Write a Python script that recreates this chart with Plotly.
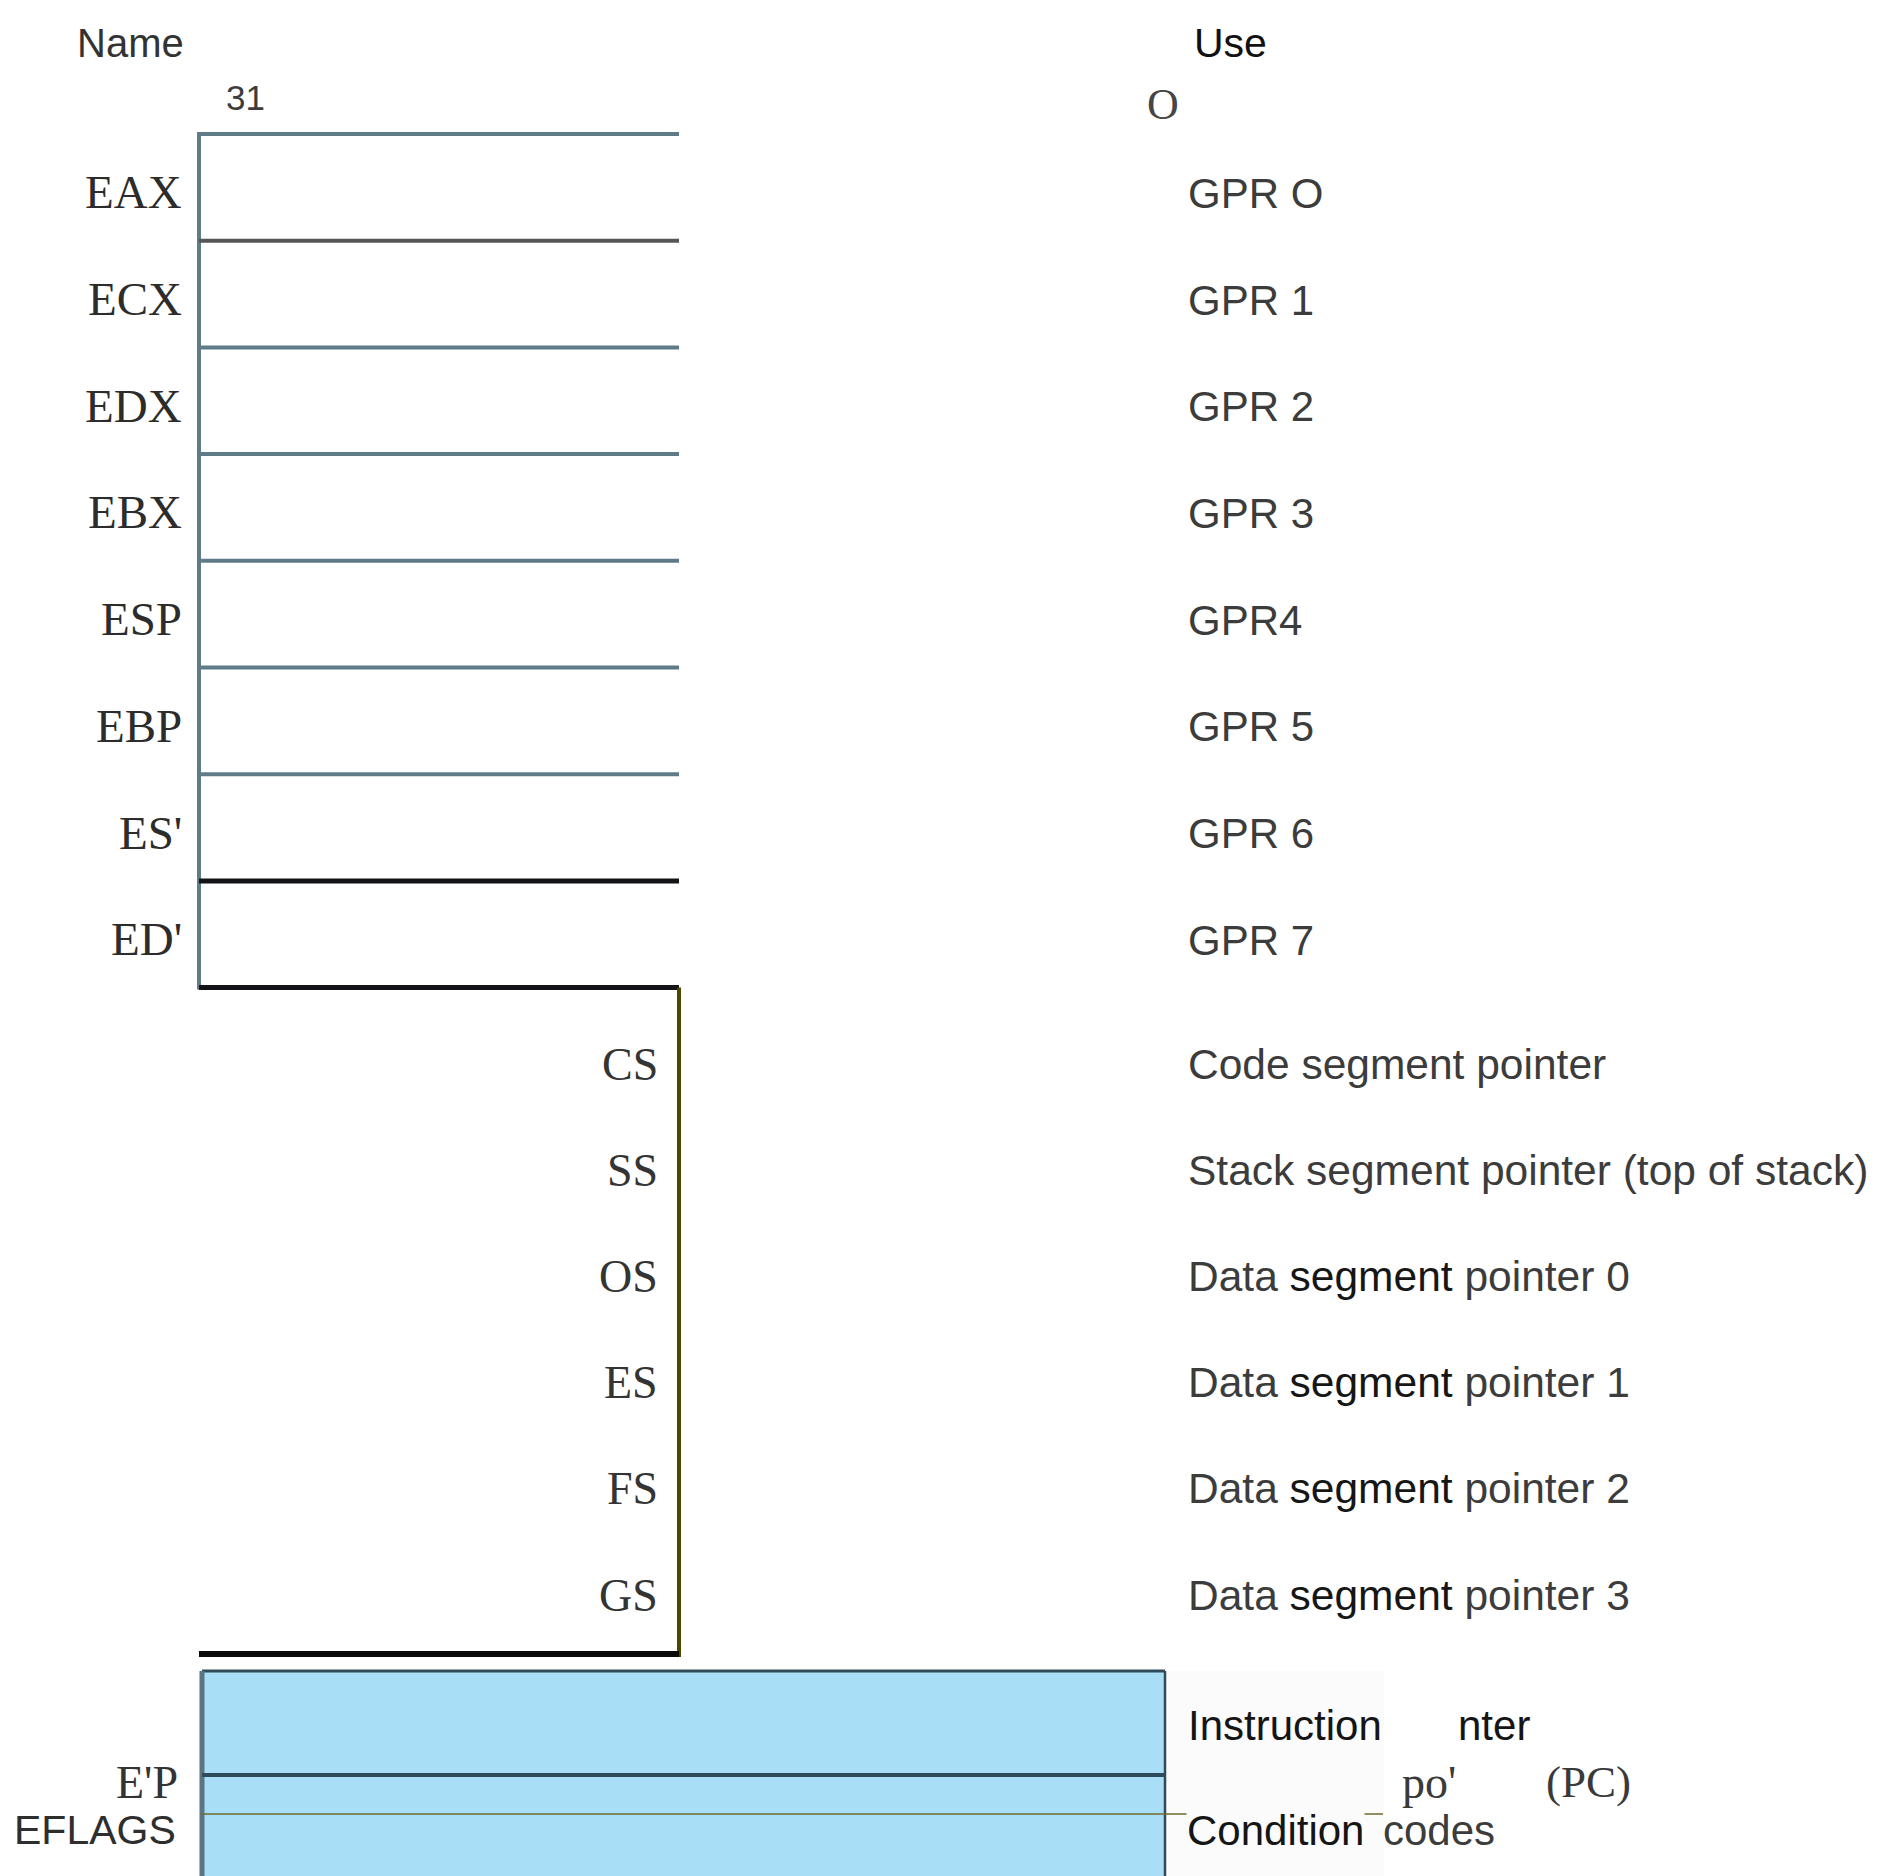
import plotly.graph_objects as go

# ---- data ----
reg_names = ["EAX", "ECX", "EDX", "EBX", "ESP", "EBP", "ES'", "ED'"]
reg_uses = ["GPR O", "GPR 1", "GPR 2", "GPR 3", "GPR4", "GPR 5", "GPR 6", "GPR 7"]
seg_names = ["CS", "SS", "OS", "ES", "FS", "GS"]
seg_use_prefix = ["Code", "Stack", "Data", "Data", "Data", "Data"]
seg_use_suffix = ["pointer", "pointer (top of stack)", "pointer 0", "pointer 1", "pointer 2", "pointer 3"]
bit_labels = ["31", "O"]
col_headers = ["Name", "Use"]

# ---- layout constants ----
W, H = 1878, 1876
OFF = 8  # page body margin
LX, RX = 199, 679
REG_TOP, REG_ROW = 134, 106.7
SEG_FIRST, SEG_ROW = 1064, 106.2
SEG_BOTTOM = 1654
BLUE_X0, BLUE_X1, BLUE_Y0 = 202, 1165, 1671
EIP_LINE, FLAG_LINE = 1775, 1814

SANS = "Liberation Sans, Arial, sans-serif"
SERIF = "Liberation Serif, Times New Roman, serif"
SLATE = "#5f7b88"
GRAY_TXT = "#3c3c3c"

fig = go.Figure()
fig.add_trace(go.Scatter(x=[OFF, W], y=[OFF, H], mode="markers",
                         marker=dict(opacity=0), hoverinfo="skip", showlegend=False))

shapes = []
annots = []

def hline(x0, x1, y, color, width):
    shapes.append(dict(type="line", xref="x", yref="y", x0=x0, x1=x1, y0=y, y1=y,
                       line=dict(color=color, width=width)))

def vline(x, y0, y1, color, width):
    shapes.append(dict(type="line", xref="x", yref="y", x0=x, x1=x, y0=y0, y1=y1,
                       line=dict(color=color, width=width)))

def text(x, y, s, size, color, family=SANS, anchor="left", bg=None):
    a = dict(x=x, y=y, xref="x", yref="y", text=s, showarrow=False,
             xanchor=anchor, yanchor="middle",
             font=dict(size=size, color=color, family=family))
    if bg:
        a.update(bgcolor=bg, borderpad=0)
    annots.append(a)

# ---- blue EIP / EFLAGS block ----
shapes.append(dict(type="rect", xref="x", yref="y", x0=BLUE_X1, x1=1384, y0=BLUE_Y0, y1=H + 20,
                   fillcolor="#fafbfa", line=dict(width=0), layer="below"))
shapes.append(dict(type="rect", xref="x", yref="y", x0=BLUE_X0, x1=BLUE_X1, y0=BLUE_Y0, y1=H + 20,
                   fillcolor="#a9def7", line=dict(width=0), layer="below"))
hline(BLUE_X0, BLUE_X1, BLUE_Y0, "#2f4a58", 3)
vline(BLUE_X0, BLUE_Y0, H + 20, "#5a7684", 5)
vline(BLUE_X1, BLUE_Y0, H + 20, "#2f4a58", 2.5)
hline(BLUE_X0, BLUE_X1, EIP_LINE, "#2e4b5c", 4)
hline(BLUE_X0, 1383, FLAG_LINE, "#6d6a2c", 1.5)

# ---- general purpose registers ----
n = len(reg_names)
bounds = [REG_TOP + i * REG_ROW for i in range(n + 1)]
line_colors = [SLATE, "#565656", SLATE, SLATE, SLATE, SLATE, SLATE, "#141418", "#141418"]
line_widths = [4, 4, 4, 4, 4, 4, 4, 5, 5]
vline(LX, bounds[0] - 2, bounds[-1] + 2, SLATE, 4)
for i, yb in enumerate(bounds):
    hline(LX, RX, yb, line_colors[i], line_widths[i])

for i, (nm, use) in enumerate(zip(reg_names, reg_uses)):
    yc = (bounds[i] + bounds[i + 1]) / 2 + 5
    text(184, yc, nm, 47, "#2c2c2c", SERIF, "right")
    text(1186, yc + 1, use, 42, GRAY_TXT)

# ---- segment registers ----
vline(RX, bounds[-1], SEG_BOTTOM + 3, "#4b4800", 4)
hline(LX, RX, SEG_BOTTOM, "#0a0a0a", 6)
for i, nm in enumerate(seg_names):
    yc = SEG_FIRST + i * SEG_ROW
    text(660, yc, nm, 46, "#343434", SERIF, "right")
    if seg_use_prefix[i] == "Data":
        s = (seg_use_prefix[i] + ' <span style="color:#161616">segment</span> '
             + seg_use_suffix[i])
    else:
        s = seg_use_prefix[i] + " segment " + seg_use_suffix[i]
    text(1186, yc, s, 42.5, GRAY_TXT)

# ---- headers and bit numbers ----
text(75, 43, col_headers[0], 40, "#333333")
text(1192, 43, col_headers[1], 41, "#111111")
text(224, 97, bit_labels[0], 35, "#3c3c3c")
text(1145, 104, bit_labels[1], 44, "#454545", SERIF)

# ---- EIP / EFLAGS labels ----
text(180, 1782, "E'P", 46, "#333333", SERIF, "right")
text(178, 1830, "EFLAGS", 41, "#2e2e2e", SANS, "right")
text(1186, 1725, "Instruction", 42, "#151515")
text(1456, 1725, "nter", 42, "#151515")
text(1400, 1782, "po'", 46, "#3a3a3a", SERIF)
text(1544, 1782, "(PC)", 45, "#3a3a3a", SERIF)
text(1186, 1830, "Condition", 42, "#151515", bg="#fafbfa")
text(1381, 1830, "codes", 42, GRAY_TXT)

fig.update_layout(
    width=W, height=H,
    margin=dict(l=0, r=0, t=0, b=0),
    paper_bgcolor="white", plot_bgcolor="white",
    xaxis=dict(range=[OFF, W + OFF], visible=False, fixedrange=True),
    yaxis=dict(range=[H + OFF, OFF], visible=False, fixedrange=True),
    shapes=shapes, annotations=annots, showlegend=False,
)
fig.write_html("out.html")
